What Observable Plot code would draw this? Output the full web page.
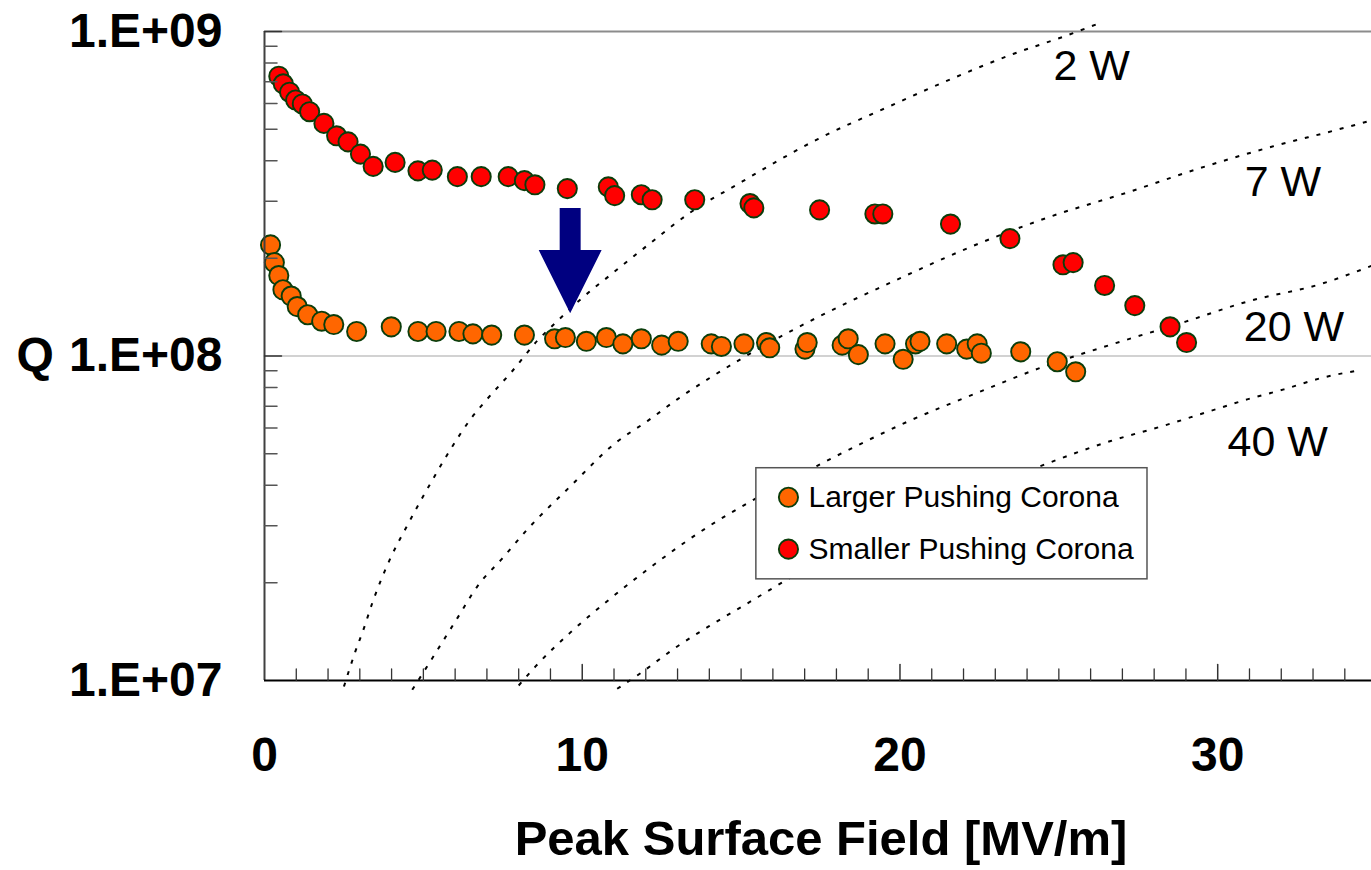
<!DOCTYPE html>
<html>
<head>
<meta charset="utf-8">
<script src="https://cdn.jsdelivr.net/npm/d3@7"></script>
<script src="https://cdn.jsdelivr.net/npm/@observablehq/plot@0.6"></script>
<style>
  body { margin: 0; background: #fff; }
  #chart svg { display: block; }
</style>
</head>
<body>
<div id="chart"></div>
<script>
// Q vs. peak surface field for two pushing-corona geometries
const largerField = [0.19, 0.31, 0.45, 0.58, 0.84, 1.03, 1.36, 1.80, 2.18, 2.90, 3.99, 4.83, 5.40, 6.12, 6.56, 7.15, 8.18, 9.13, 9.47, 10.13, 10.76, 11.28, 11.86, 12.50, 13.02, 14.06, 14.38, 15.09, 15.80, 15.90, 17.01, 17.08, 18.18, 18.37, 18.69, 19.53, 20.10, 20.49, 20.63, 21.47, 22.10, 22.43, 22.56, 23.80, 24.95, 25.53];
const largerQ = [2.20e8, 1.94e8, 1.77e8, 1.60e8, 1.53e8, 1.42e8, 1.34e8, 1.28e8, 1.25e8, 1.19e8, 1.23e8, 1.19e8, 1.19e8, 1.19e8, 1.17e8, 1.16e8, 1.16e8, 1.13e8, 1.14e8, 1.11e8, 1.14e8, 1.09e8, 1.13e8, 1.08e8, 1.11e8, 1.09e8, 1.07e8, 1.09e8, 1.10e8, 1.06e8, 1.05e8, 1.10e8, 1.08e8, 1.13e8, 1.01e8, 1.09e8, 9.77e7, 1.09e8, 1.11e8, 1.09e8, 1.05e8, 1.09e8, 1.02e8, 1.03e8, 9.60e7, 8.94e7];

const smallerField = [0.45, 0.59, 0.79, 0.98, 1.19, 1.42, 1.87, 2.27, 2.63, 3.02, 3.42, 4.11, 4.83, 5.28, 6.07, 6.82, 7.67, 8.18, 8.51, 9.53, 10.82, 11.02, 11.86, 12.20, 13.54, 15.28, 15.40, 17.47, 19.21, 19.46, 21.59, 23.46, 25.13, 25.45, 26.44, 27.39, 28.50, 29.02];
const smallerQ = [7.28e8, 6.90e8, 6.50e8, 6.15e8, 5.98e8, 5.66e8, 5.21e8, 4.77e8, 4.57e8, 4.19e8, 3.84e8, 3.95e8, 3.72e8, 3.74e8, 3.57e8, 3.57e8, 3.57e8, 3.47e8, 3.37e8, 3.28e8, 3.32e8, 3.12e8, 3.14e8, 3.03e8, 3.03e8, 2.95e8, 2.86e8, 2.82e8, 2.74e8, 2.74e8, 2.55e8, 2.30e8, 1.91e8, 1.94e8, 1.65e8, 1.43e8, 1.23e8, 1.10e8];

// Constant dissipated-power lines
const p2Field = [2.50, 2.86, 3.13, 3.39, 3.65, 3.97, 4.49, 5.23, 5.82, 6.48, 7.00, 7.80, 8.58, 9.11, 9.95, 10.89, 12.10, 13.36, 15.04, 16.03, 17.43, 19.60, 21.38, 23.58, 25.16, 26.31];
const p2Q = [9.58e6, 1.229e7, 1.45e7, 1.73e7, 2.02e7, 2.39e7, 3.00e7, 4.06e7, 5.09e7, 6.38e7, 7.35e7, 8.99e7, 1.113e8, 1.252e8, 1.496e8, 1.778e8, 2.21e8, 2.75e8, 3.45e8, 3.93e8, 4.67e8, 5.84e8, 6.98e8, 8.54e8, 9.65e8, 1.064e9];
const p7Field = [4.65, 5.23, 6.07, 6.70, 7.48, 8.27, 9.63, 11.05, 12.05, 12.99, 14.98, 17.43, 19.60, 22.43, 24.74, 27.15, 29.36, 31.72, 33.66, 34.81];
const p7Q = [9.36e6, 1.150e7, 1.557e7, 1.951e7, 2.375e7, 2.92e7, 3.97e7, 5.40e7, 6.30e7, 7.35e7, 9.77e7, 1.320e8, 1.665e8, 2.21e8, 2.69e8, 3.19e8, 3.77e8, 4.42e8, 4.95e8, 5.31e8];
const p20Field = [8.00, 8.53, 9.63, 10.84, 12.05, 13.99, 15.40, 17.38, 20.28, 22.43, 24.37, 26.68, 28.99, 30.93, 33.29, 34.84];
const p20Q = [9.65e6, 1.105e7, 1.407e7, 1.774e7, 2.196e7, 2.99e7, 3.61e7, 4.58e7, 6.30e7, 7.70e7, 9.16e7, 1.087e8, 1.276e8, 1.471e8, 1.672e8, 1.896e8];
const p40Field = [11.10, 11.73, 12.99, 13.98, 15.04, 16.45, 24.32, 26.63, 28.26, 29.67, 30.93, 32.08, 33.29, 34.44];
const p40Q = [9.43e6, 1.036e7, 1.273e7, 1.468e7, 1.692e7, 2.046e7, 4.54e7, 5.47e7, 6.08e7, 6.72e7, 7.35e7, 7.89e7, 8.57e7, 9.03e7];

const powerLabels = ["2 W", "7 W", "20 W", "40 W"];
const powerLabelField = [24.83, 30.85, 30.82, 30.31];
const powerLabelQ = [7.79e8, 3.44e8, 1.227e8, 5.42e7];

const seriesNames = ["Larger Pushing Corona", "Smaller Pushing Corona"];
const seriesColors = ["#ff6600", "#ff0000"];

const xTicks = [0, 10, 20, 30];
const yTicks = [1e7, 1e8, 1e9];
const yTickLabels = ["1.E+07", "1.E+08", "1.E+09"];

// ---- build tables ----
const zip = (xs, ys, extra = {}) => xs.map((x, i) => ({x, y: ys[i], ...extra}));
const larger = zip(largerField, largerQ);
const smaller = zip(smallerField, smallerQ);
const powerLines = [
  zip(p2Field, p2Q, {p: "2 W"}),
  zip(p7Field, p7Q, {p: "7 W"}),
  zip(p20Field, p20Q, {p: "20 W"}),
  zip(p40Field, p40Q, {p: "40 W"})
].flat();
const powerText = powerLabels.map((t, i) => ({t, x: powerLabelField[i], y: powerLabelQ[i]}));

const xMinor = d3.range(1, 35).filter(v => v % 10 !== 0);
const xMajor = [10, 20, 30];
const yMinor = [2, 3, 4, 5, 6, 7, 8, 9].flatMap(k => [k * 1e7, k * 1e8]);
const yMajor = [1e8, 1e9];

// Downward annotation arrow between the two data sets
const arrowX = 9.62, arrowTop = 2.86e8, arrowNeck = 2.12e8, arrowTip = 1.354e8;
const shaftHalf = 0.33, headHalf = 0.99;
const arrowShape = [
  {x: arrowX - shaftHalf, y: arrowTop},
  {x: arrowX + shaftHalf, y: arrowTop},
  {x: arrowX + shaftHalf, y: arrowNeck},
  {x: arrowX + headHalf, y: arrowNeck},
  {x: arrowX, y: arrowTip},
  {x: arrowX - headHalf, y: arrowNeck},
  {x: arrowX - shaftHalf, y: arrowNeck}
];

// Legend box placed inside the plot area
const legendBox = {x1: 15.48, x2: 27.79, y1: 2.05e7, y2: 4.51e7};
const legendMarkX = 16.49, legendTextX = 17.12;
const legendRowsQ = [3.67e7, 2.54e7];
const legendRows = seriesNames.map((name, i) => ({name, color: seriesColors[i], y: legendRowsQ[i]}));

// Short tick drawn from the anchor point along the vector direction
const tickShape = {draw(context, length) { context.moveTo(0, 0); context.lineTo(0, -length); }};

const font = "'Liberation Sans', Arial, Helvetica, sans-serif";
const dotStroke = "#0b3d0b";

const chart = Plot.plot({
  width: 1371,
  height: 870,
  marginLeft: 264,
  marginRight: 0,
  marginTop: 31,
  marginBottom: 190,
  x: {domain: [0, 34.84], axis: null},
  y: {type: "log", domain: [1e7, 1e9], axis: null},
  style: {fontFamily: font, background: "#fff", overflow: "visible"},
  marks: [
    // gridlines
    Plot.ruleY([1e8], {stroke: "#a6a6a6", strokeWidth: 1.2}),
    Plot.ruleY([1e9], {stroke: "#8c8c8c", strokeWidth: 2}),

    // constant-power curves
    Plot.line(powerLines, {
      x: "x", y: "y", z: "p", curve: "monotone-x",
      stroke: "#000", strokeWidth: 2, strokeDasharray: "4 8", strokeLinecap: "butt"
    }),

    // measurements
    Plot.dot(larger, {x: "x", y: "y", r: 9.6, fill: seriesColors[0], stroke: dotStroke, strokeWidth: 1.9}),
    Plot.dot(smaller, {x: "x", y: "y", r: 9.6, fill: seriesColors[1], stroke: dotStroke, strokeWidth: 1.9}),

    // arrow
    Plot.line(arrowShape, {x: "x", y: "y", fill: "#000080", stroke: "none", curve: "linear-closed"}),

    // legend
    Plot.rect([legendBox], {x1: "x1", x2: "x2", y1: "y1", y2: "y2", fill: "#fff", stroke: "#555", strokeWidth: 1.5}),
    Plot.dot(legendRows, {x: legendMarkX, y: "y", r: 9.6, fill: "color", stroke: dotStroke, strokeWidth: 1.9}),
    Plot.text(legendRows, {x: legendTextX, y: "y", text: "name", textAnchor: "start", fontSize: 30, fill: "#000"}),

    // axis lines
    Plot.ruleX([0], {y1: 1e7, y2: 1e9, stroke: "#404040", strokeWidth: 2}),
    Plot.ruleY([1e7], {stroke: "#000", strokeWidth: 2}),

    // inward ticks
    Plot.vector(yMinor, {x: 0, y: d => d, length: 12.5, rotate: 90, anchor: "start", shape: tickShape, stroke: "#555", strokeWidth: 1.5}),
    Plot.vector(yMajor, {x: 0, y: d => d, length: 17, rotate: 90, anchor: "start", shape: tickShape, stroke: "#333", strokeWidth: 1.5}),
    Plot.vector(xMinor, {x: d => d, y: 1e7, length: 11.5, rotate: 0, anchor: "start", shape: tickShape, stroke: "#333", strokeWidth: 1.3}),
    Plot.vector(xMajor, {x: d => d, y: 1e7, length: 16, rotate: 0, anchor: "start", shape: tickShape, stroke: "#333", strokeWidth: 1.5}),

    // tick labels
    Plot.text(yTicks, {x: 0, y: d => d, text: (d, i) => yTickLabels[i], textAnchor: "end", dx: -42, fontSize: 48, fontWeight: "bold", fill: "#000"}),
    Plot.text(xTicks, {x: d => d, y: 1e7, text: d => String(d), dy: 75, fontSize: 48, fontWeight: "bold", fill: "#000"}),

    // axis titles
    Plot.text(["Q"], {x: 0, y: 1e8, textAnchor: "start", dx: -248, fontSize: 48, fontWeight: "bold", fill: "#000"}),
    Plot.text(["Peak Surface Field [MV/m]"], {frameAnchor: "bottom", dx: 3, dy: 174, fontSize: 49, fontWeight: "bold", fill: "#000"}),

    // power labels
    Plot.text(powerText, {x: "x", y: "y", text: "t", textAnchor: "start", fontSize: 43, fill: "#000"})
  ]
});

document.getElementById("chart").appendChild(chart);
</script>
</body>
</html>
